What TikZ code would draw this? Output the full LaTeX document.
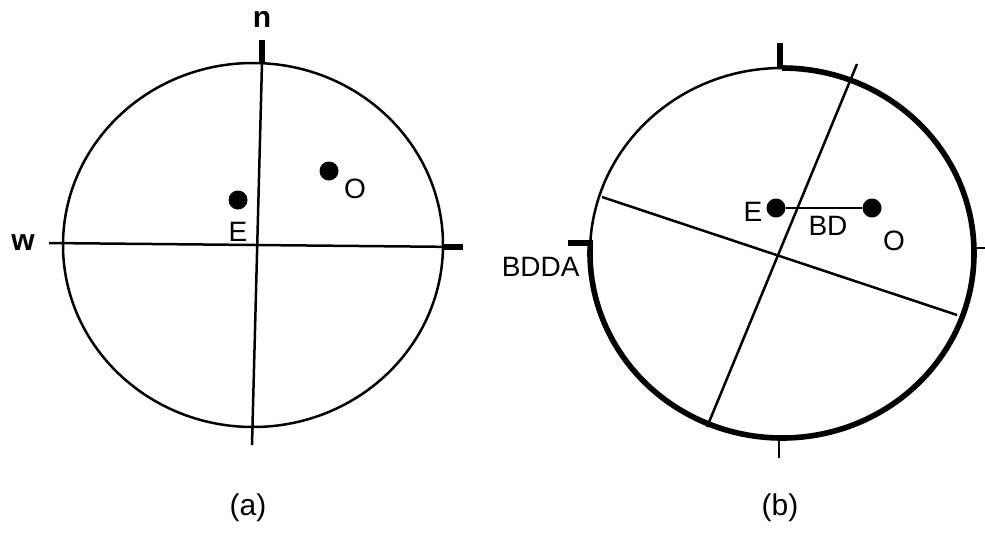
\documentclass[tikz,border=0pt]{standalone}
\usepackage{fontspec}
\setmainfont{Liberation Sans}
\usetikzlibrary{positioning,calc}

\tikzset{
  dot/.style={circle,fill=black,inner sep=0pt,minimum size=9.5pt},
  lbl/.style={font=\fontsize{14}{16}\selectfont,inner sep=1pt},
  dirlbl/.style={font=\fontsize{15}{17}\selectfont\bfseries,inner sep=1pt},
  thinline/.style={line width=1.25pt},
  tickmark/.style={line width=3pt},
  rim/.style={line width=2.8pt},
}

\begin{document}
\begin{tikzpicture}[x=0.5pt,y=0.5pt]
    \useasboundingbox (0,0) rectangle (985,-553);
    % (a) before
    \coordinate (ca) at (253,-245);
    \draw[thinline] (ca) ellipse [x radius=190,y radius=182];
    \coordinate (na) at (262,-63);   \coordinate (sa) at (252,-445);
    \coordinate (wa) at (49,-243);   \coordinate (ea) at (463,-247);
    \coordinate (ra) at (443,-247);
    \draw[thinline] (na) -- (sa);
    \draw[thinline] (wa) -- (ea);
    \draw[tickmark] (na) -- ++(0,23) node[dirlbl,above=4pt] (nlbl) {n};
    \draw[tickmark] (ra) -- (ea);
    \node[dirlbl,left=6pt of wa] (wlbl) {w};
    \node[dot] (ea-dot) at (238,-200) {};
    \node[dot] (oa-dot) at (329,-171) {};
    \node[lbl] (ea-lbl) at (238,-232) {E};
    \node[lbl] (oa-lbl) at (355,-189) {O};
    \node[lbl,font=\fontsize{15}{17}\selectfont] (cap-a) at (248,-508) {(a)};

    % (b) after
    \coordinate (cb) at (782,-253);
    \draw[thinline] (cb) ellipse [x radius=192,y radius=185];
    \draw[rim] ($(cb)+(90:192 and 185)$)
        arc[start angle=90,end angle=-183,x radius=192,y radius=185];
    \coordinate (nb) at (780,-68);  \coordinate (sb) at (779,-438);
    \coordinate (eb) at (974,-248); \coordinate (bd) at (593,-243);
    \draw[tickmark] (nb) -- ++(0,25);
    \draw[thinline] (sb) -- ++(0,-20);
    \draw[thinline] (eb) -- ++(11,0);
    \draw[tickmark] (bd) -- ++(-25,0);
    \node[lbl,anchor=east] (bdda) at (582,-267) {BDDA};
    \coordinate (l1a) at (857,-64);  \coordinate (l1b) at (707,-427);
    \coordinate (l2a) at (602,-197); \coordinate (l2b) at (957,-315);
    \draw[thinline] (l1a) -- (l1b);
    \draw[thinline] (l2a) -- (l2b);
    \node[dot] (eb-dot) at (776,-208) {};
    \node[dot] (ob-dot) at (872,-208) {};
    \draw[thinline] (eb-dot) -- (ob-dot);
    \node[lbl] (eb-lbl) at (753,-212) {E};
    \node[lbl] (bd-lbl) at (828,-226) {BD};
    \node[lbl] (ob-lbl) at (894,-241) {O};
    \node[lbl,font=\fontsize{15}{17}\selectfont] (cap-b) at (780,-508) {(b)};
\end{tikzpicture}
\end{document}
